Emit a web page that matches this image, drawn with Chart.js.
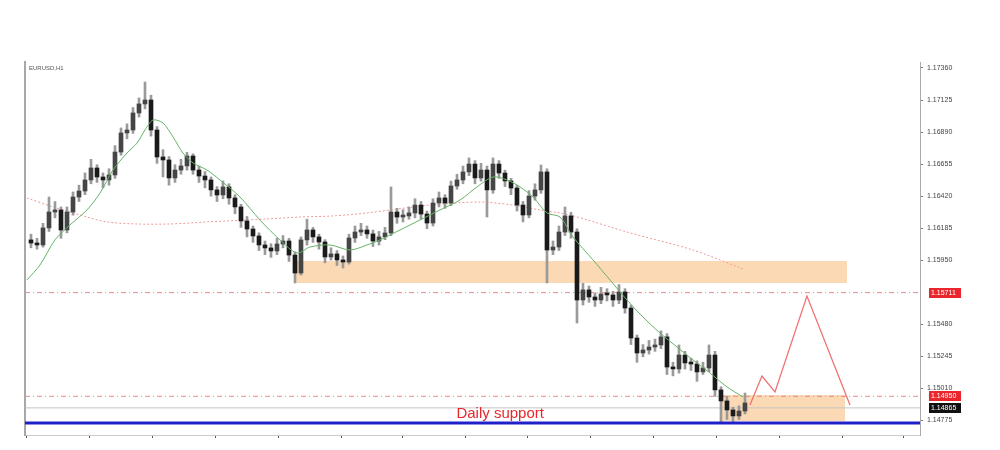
<!DOCTYPE html>
<html>
<head>
<meta charset="utf-8">
<script src="https://cdn.jsdelivr.net/npm/chart.js@4.4.0/dist/chart.umd.min.js"></script>
<style>
  html, body { margin: 0; padding: 0; background: #fff; }
  canvas { display: block; }
</style>
</head>
<body>
<canvas id="chart" width="1000" height="450"></canvas>
<script>
// Data (EURUSD H1)
const symbolLabel = 'EURUSD,H1';

const firstOpen = 1.16098;
const closes = [
  1.16075, 1.16061, 1.16186, 1.16303, 1.16318, 1.16171, 1.16303, 1.16413, 1.16457, 1.16538,
  1.16626, 1.16560, 1.16538, 1.16575, 1.16743, 1.16883, 1.16905, 1.17030, 1.17096, 1.17125,
  1.16905, 1.16707, 1.16685, 1.16553, 1.16611, 1.16641, 1.16714, 1.16611, 1.16567, 1.16538,
  1.16465, 1.16428, 1.16487, 1.16406, 1.16340, 1.16237, 1.16178, 1.16127, 1.16061, 1.16039,
  1.16017, 1.16068, 1.16090, 1.15987, 1.15855, 1.16098, 1.16171, 1.16120, 1.16083, 1.15973,
  1.15995, 1.15951, 1.15936, 1.16112, 1.16156, 1.16171, 1.16142, 1.16090, 1.16120, 1.16149,
  1.16303, 1.16266, 1.16274, 1.16296, 1.16354, 1.16288, 1.16222, 1.16369, 1.16406, 1.16369,
  1.16494, 1.16538, 1.16597, 1.16655, 1.16553, 1.16611, 1.16465, 1.16655, 1.16589, 1.16531,
  1.16479, 1.16354, 1.16281, 1.16420, 1.16465, 1.16597, 1.16024, 1.16046, 1.16156, 1.16274,
  1.16156, 1.15657, 1.15731, 1.15679, 1.15657, 1.15701, 1.15694, 1.15657, 1.15716, 1.15598,
  1.15378, 1.15268, 1.15290, 1.15312, 1.15327, 1.15386, 1.15165, 1.15151, 1.15253, 1.15195,
  1.15187, 1.15129, 1.15158, 1.15253, 1.14997, 1.14916, 1.14850, 1.14806, 1.14842, 1.14901
];
const highs = [
  1.16140, 1.16110, 1.16220, 1.16413, 1.16380, 1.16340, 1.16340, 1.16450, 1.16500, 1.16590,
  1.16690, 1.16650, 1.16590, 1.16620, 1.16790, 1.16920, 1.16950, 1.17070, 1.17140, 1.17257,
  1.17160, 1.16930, 1.16760, 1.16710, 1.16650, 1.16690, 1.16740, 1.16730, 1.16640, 1.16600,
  1.16560, 1.16490, 1.16530, 1.16510, 1.16430, 1.16360, 1.16270, 1.16200, 1.16150, 1.16090,
  1.16070, 1.16110, 1.16130, 1.16110, 1.16010, 1.16120, 1.16250, 1.16190, 1.16140, 1.16100,
  1.16040, 1.16020, 1.15980, 1.16140, 1.16200, 1.16220, 1.16200, 1.16170, 1.16160, 1.16190,
  1.16487, 1.16330, 1.16320, 1.16340, 1.16400, 1.16380, 1.16310, 1.16400, 1.16450, 1.16430,
  1.16530, 1.16580, 1.16640, 1.16700, 1.16680, 1.16660, 1.16640, 1.16700, 1.16680, 1.16610,
  1.16550, 1.16500, 1.16380, 1.16460, 1.16510, 1.16648, 1.16620, 1.16090, 1.16200, 1.16340,
  1.16300, 1.16180, 1.15780, 1.15760, 1.15710, 1.15750, 1.15740, 1.15720, 1.15770, 1.15740,
  1.15620, 1.15400, 1.15330, 1.15360, 1.15370, 1.15430, 1.15410, 1.15200, 1.15327, 1.15280,
  1.15230, 1.15210, 1.15200, 1.15327, 1.15280, 1.15020, 1.14950, 1.14870, 1.14880, 1.14974
];
const lows = [
  1.16040, 1.16030, 1.16045, 1.16160, 1.16260, 1.16110, 1.16150, 1.16280, 1.16380, 1.16430,
  1.16510, 1.16520, 1.16480, 1.16500, 1.16550, 1.16720, 1.16840, 1.16880, 1.17000, 1.17060,
  1.16860, 1.16660, 1.16560, 1.16500, 1.16520, 1.16580, 1.16610, 1.16580, 1.16520, 1.16480,
  1.16420, 1.16380, 1.16400, 1.16360, 1.16290, 1.16190, 1.16120, 1.16080, 1.16020, 1.15990,
  1.15970, 1.15990, 1.16040, 1.15940, 1.15782, 1.15840, 1.16060, 1.16080, 1.16030, 1.15930,
  1.15950, 1.15910, 1.15892, 1.15920, 1.16080, 1.16130, 1.16110, 1.16050, 1.16060, 1.16100,
  1.16130, 1.16220, 1.16230, 1.16250, 1.16260, 1.16250, 1.16180, 1.16200, 1.16340, 1.16330,
  1.16350, 1.16470, 1.16510, 1.16570, 1.16510, 1.16530, 1.16266, 1.16440, 1.16550, 1.16490,
  1.16430, 1.16310, 1.16230, 1.16260, 1.16390, 1.16440, 1.15782, 1.15990, 1.16020, 1.16130,
  1.16110, 1.15488, 1.15620, 1.15640, 1.15610, 1.15630, 1.15650, 1.15610, 1.15630, 1.15560,
  1.15330, 1.15200, 1.15240, 1.15260, 1.15280, 1.15300, 1.15110, 1.15100, 1.15120, 1.15150,
  1.15140, 1.15060, 1.15110, 1.15130, 1.14950, 1.14754, 1.14780, 1.14754, 1.14780, 1.14820
];
// H1 candles open at the previous close
const opens = [firstOpen].concat(closes.slice(0, -1));

// Moving averages (bar index, price)
const fastMaX = [-0.67, 1.5, 4, 6.5, 9.33, 11.5, 13.67, 16, 17.67, 19, 20.33, 22, 23.67, 25.33, 27, 29.33,
  31.5, 34.83, 38.17, 41.5, 44.33, 46.5, 49.83, 53.17, 56, 58.17, 61.5, 64.83, 68.17, 71.5, 74.33, 77,
  79.33, 81.5, 83.67, 86, 88.17, 90.33, 93.67, 96.5, 99.33, 102, 104.83, 107.67, 110.33, 113.17, 116, 118.67];
const fastMaY = [1.15804, 1.15914, 1.16098, 1.16208, 1.16318, 1.16442, 1.16611, 1.16736, 1.16809, 1.16905, 1.16978, 1.16956, 1.16854, 1.16736, 1.16663, 1.16611,
  1.16538, 1.16413, 1.16244, 1.16098, 1.16002, 1.16046, 1.16061, 1.16024, 1.16061, 1.16098, 1.16171, 1.16244, 1.16318, 1.16391, 1.16487, 1.16560,
  1.16538, 1.16487, 1.16413, 1.16296, 1.16266, 1.16120, 1.15951, 1.15804, 1.15657, 1.15532, 1.15415, 1.15312, 1.15217, 1.15121, 1.15019, 1.14945];
const slowMaX = [-0.67, 3.67, 9.33, 12.67, 17.67, 23.17, 29.33, 39.33, 44.83, 50.33, 56, 66.5, 74.83, 80.33, 84.83, 89.83, 99.33, 110.33, 118.67];
const slowMaY = [1.16406, 1.16340, 1.16266, 1.16230, 1.16215, 1.16215, 1.16230, 1.16252, 1.16266, 1.16274, 1.16296, 1.16354, 1.16376, 1.16354, 1.16318, 1.16281, 1.16156, 1.16024, 1.15885];

// Supply / demand zones
const zoneFrom = [44.17, 114.83];
const zoneTo = [136, 135.67];
const zoneTop = [1.15943, 1.14960];
const zoneBottom = [1.15782, 1.14769];

// Horizontal levels
const dashLevels = [1.15711, 1.14950];
const bidLevel = 1.14865;
const supportLevel = 1.14754;

// Projected path
const pathX = [119.83, 121.83, 124, 129.33, 136.5];
const pathY = [1.14886, 1.15099, 1.14982, 1.15686, 1.14886];

// Axis
const xMin = -1, xMax = 148.17;
const yMin = 1.14666, yMax = 1.17404;
const yTicks = [1.17360, 1.17125, 1.16890, 1.16655, 1.16420, 1.16185, 1.15950, 1.15480, 1.15245, 1.15010, 1.14775];
const xTicks = [-0.67, 9.83, 20.33, 30.67, 41.17, 51.67, 62, 72.5, 82.83, 93.17, 103.67, 114.33, 124.67, 135.17, 145.5];

// Price tags on the axis
const tagValues = [1.15711, 1.14950, 1.14865];
const tagColors = ['#e8262c', '#e8262c', '#111111'];

// Annotation text
const noteText = 'Daily support';
const noteX = 78.2;
const noteY = 1.14822;

// Build datasets
const pts = (xs, ys) => xs.map((x, i) => ({ x: x, y: ys[i] }));
const flat = (y) => [{ x: xMin, y: y }, { x: xMax, y: y }];

const datasets = [];

zoneTop.forEach((top, k) => {
  datasets.push({
    type: 'line', order: 20,
    data: [{ x: zoneFrom[k], y: top }, { x: zoneTo[k], y: top }],
    borderWidth: 0, pointRadius: 0, fill: false
  });
  datasets.push({
    type: 'line', order: 20,
    data: [{ x: zoneFrom[k], y: zoneBottom[k] }, { x: zoneTo[k], y: zoneBottom[k] }],
    borderWidth: 0, pointRadius: 0,
    fill: '-1', backgroundColor: 'rgba(251, 201, 150, 0.7)'
  });
});

dashLevels.forEach(v => {
  datasets.push({
    type: 'line', order: 15, data: flat(v),
    borderColor: '#ee8888', borderWidth: 1, borderDash: [5, 3, 1, 3], pointRadius: 0, fill: false
  });
});

datasets.push({
  type: 'line', order: 15, data: flat(bidLevel),
  borderColor: '#c4c4c4', borderWidth: 1, pointRadius: 0, fill: false
});

datasets.push({
  type: 'line', order: 12, data: pts(slowMaX, slowMaY),
  borderColor: '#ef9a9a', borderWidth: 1, borderDash: [2, 2], pointRadius: 0, fill: false, tension: 0.3
});

// wicks
datasets.push({
  type: 'bar', order: 10, grouped: false,
  data: highs.map((h, i) => ({ x: i, y: [lows[i], h] })),
  backgroundColor: '#9a9a9a', barThickness: 2
});

// bodies
datasets.push({
  type: 'bar', order: 9, grouped: false,
  data: closes.map((c, i) => ({ x: i, y: [opens[i], c] })),
  backgroundColor: closes.map((c, i) => c >= opens[i] ? '#454545' : '#1a1a1a'),
  barThickness: 4, minBarLength: 2
});

datasets.push({
  type: 'line', order: 5, data: pts(fastMaX, fastMaY),
  borderColor: '#66b266', borderWidth: 1, pointRadius: 0, fill: false, tension: 0.3
});

datasets.push({
  type: 'line', order: 4, data: pts(pathX, pathY),
  borderColor: '#f07272', borderWidth: 1.3, pointRadius: 0, fill: false
});

datasets.push({
  type: 'line', order: 3, data: flat(supportLevel),
  borderColor: '#2020c8', borderWidth: 3, pointRadius: 0, fill: false
});

// Overlay text and axis price tags
const overlay = {
  id: 'overlay',
  afterDatasetsDraw(chart) {
    const { ctx, chartArea, scales } = chart;
    ctx.save();
    ctx.fillStyle = '#555';
    ctx.font = '6px "Liberation Sans", Arial, sans-serif';
    ctx.textBaseline = 'top';
    ctx.fillText(symbolLabel, chartArea.left + 4, chartArea.top + 3);

    ctx.fillStyle = '#e8262c';
    ctx.font = '15px "Liberation Sans", Arial, sans-serif';
    ctx.textAlign = 'center';
    ctx.textBaseline = 'middle';
    ctx.fillText(noteText, scales.x.getPixelForValue(noteX), scales.y.getPixelForValue(noteY));
    ctx.restore();
  },
  afterDraw(chart) {
    const { ctx, scales } = chart;
    const y = scales.y;
    ctx.save();
    ctx.font = '7px "Liberation Sans", Arial, sans-serif';
    ctx.textBaseline = 'middle';
    tagValues.forEach((v, k) => {
      const py = Math.round(y.getPixelForValue(v));
      ctx.fillStyle = tagColors[k];
      ctx.fillRect(y.left + 9, py - 5, 32, 10);
      ctx.fillStyle = '#fff';
      ctx.fillText(v.toFixed(5), y.left + 11, py);
    });
    ctx.restore();
  }
};

new Chart(document.getElementById('chart'), {
  type: 'bar',
  data: { datasets },
  options: {
    responsive: false,
    animation: false,
    layout: { padding: { left: 25, top: 62, right: 0, bottom: 11 } },
    plugins: { legend: { display: false }, tooltip: { enabled: false } },
    scales: {
      x: {
        type: 'linear', min: xMin, max: xMax, offset: false,
        grid: { drawOnChartArea: false, offset: false, tickLength: 3, color: '#555' },
        border: { color: '#cccccc' },
        ticks: { display: false },
        afterBuildTicks: s => { s.ticks = xTicks.map(v => ({ value: v })); },
        afterFit: s => { s.height = 4; }
      },
      y: {
        type: 'linear', position: 'right', min: yMin, max: yMax,
        grid: { drawOnChartArea: false, tickLength: 3, color: '#777' },
        border: { color: '#aaaaaa' },
        ticks: {
          font: { size: 7, family: '"Liberation Sans", Arial, sans-serif' },
          color: '#444', padding: 4,
          callback: v => Number(v).toFixed(5)
        },
        afterBuildTicks: s => { s.ticks = yTicks.map(v => ({ value: v })); },
        afterFit: s => { s.width = 80; }
      },
      yLeft: {
        type: 'linear', position: 'left', min: yMin, max: yMax,
        grid: { display: false },
        border: { color: '#a8a8a8', width: 2 },
        ticks: { display: false },
        afterFit: s => { s.width = 0; }
      }
    }
  },
  plugins: [overlay]
});
</script>
</body>
</html>
